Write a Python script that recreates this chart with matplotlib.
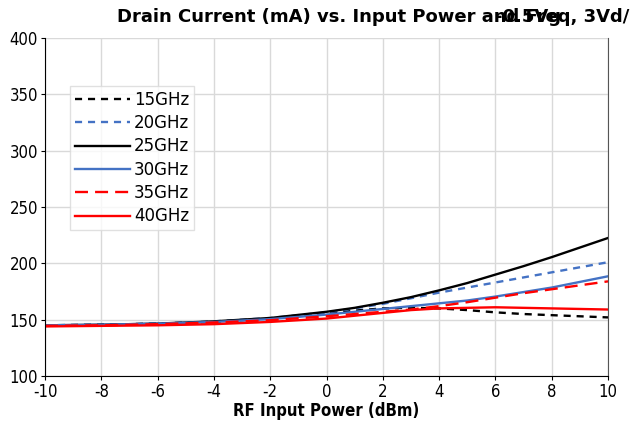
import matplotlib.pyplot as plt
import numpy as np

plt.rcParams["axes.unicode_minus"] = False

pin = [-10, -8, -6, -4, -2, 0, 1, 2, 3, 4, 5, 6, 7, 8, 9, 10]

i15 = [145, 145.5, 146.5, 148, 151, 155.5, 158, 160, 160.5, 160, 158.5, 156.5, 155, 154, 153, 152]
i20 = [145, 145.5, 146.5, 148.5, 151.5, 156.5, 160, 164, 169, 174, 178.5, 183, 187.5, 192, 196.5, 201]
i25 = [145, 145.5, 146.5, 148.5, 151.5, 157, 160.5, 165, 170, 176, 182.5, 190, 197.5, 205.5, 214, 222.5]
i30 = [145, 145.5, 146.5, 148, 150.5, 154.5, 157, 159.5, 162, 164.5, 167, 170.5, 174.5, 178.5, 183.5, 188.5]
i35 = [144.5, 145, 146, 147.5, 149.5, 153, 155, 157, 159, 162, 165.5, 169.5, 173.5, 177, 180.5, 184]
i40 = [144, 144.5, 145, 146, 148, 151, 153.5, 156, 158.5, 160, 160.5, 161, 160.5, 160, 159.5, 159]

series = [
    ("15GHz", i15, "black", (0, (3, 2.5))),
    ("20GHz", i20, "#4472c4", (0, (3, 2.5))),
    ("25GHz", i25, "black", "-"),
    ("30GHz", i30, "#4472c4", "-"),
    ("35GHz", i35, "red", (0, (5.5, 3))),
    ("40GHz", i40, "red", "-"),
]

fig = plt.figure(figsize=(6.31, 4.28), dpi=100)
ax = fig.add_axes([45 / 631, 1 - 376 / 428, 563 / 631, 338 / 428])

for name, vals, col, ls in series:
    ax.plot(pin, vals, color=col, linestyle=ls, linewidth=1.7, label=name)

ax.set_xlim(-10, 10)
ax.set_ylim(100, 400)
ax.set_xticks(np.arange(-10, 11, 2))
ax.set_yticks(np.arange(100, 401, 50))
ax.grid(True, color="#d9d9d9", linewidth=1)
ax.set_axisbelow(True)
ax.tick_params(length=3, pad=2)
for lab in ax.get_xticklabels() + ax.get_yticklabels():
    lab.set_fontsize(12)
    lab.set_fontstretch("condensed")
ax.spines["top"].set_visible(False)
ax.spines["right"].set_color("#555555")

ax.set_xlabel("RF Input Power (dBm)", fontsize=12, fontweight="bold",
              fontstretch="condensed", labelpad=1)

fig.text(117 / 631, 1 - 17 / 428, "Drain Current (mA) vs. Input Power and Freq, 3Vd/",
         fontsize=13, fontweight="bold", va="center", ha="left")
fig.text(495 / 631, 1 - 17 / 428, "-0.5Vg",
         fontsize=13, fontweight="bold", va="center", ha="left")

leg = ax.legend(loc="upper left", bbox_to_anchor=(25 / 563, 290 / 338), fontsize=12,
                frameon=True, fancybox=False, edgecolor="#d9d9d9", borderaxespad=0,
                handlelength=3.3, handletextpad=0.25, labelspacing=0.32, borderpad=0.28)
leg.get_frame().set_linewidth(1)

fig.savefig("out.png", dpi=100)
